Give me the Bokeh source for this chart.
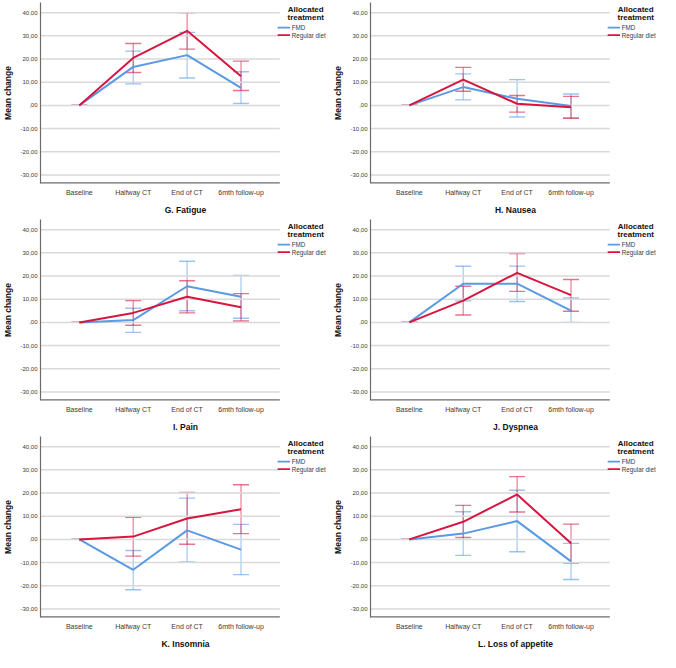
from bokeh.plotting import figure
from bokeh.layouts import gridplot
from bokeh.models import Range1d, FixedTicker, Whisker, TeeHead, ColumnDataSource
from bokeh.core.properties import value
from bokeh.embed import file_html
from bokeh.resources import INLINE

timepoints = ["Baseline", "Halfway CT", "End of CT", "6mth follow-up"]
y_ticks = [-30, -20, -10, 0, 10, 20, 30, 40]
y_tick_labels = ["-30,00", "-20,00", "-10,00", ",00", "10,00", "20,00", "30,00", "40,00"]
panel_titles = ["G. Fatigue", "H. Nausea", "I. Pain", "J. Dyspnea", "K. Insomnia", "L. Loss of appetite"]
legend_title = ["Allocated", "treatment"]
series_names = ["FMD", "Regular diet"]

# means and 95% CI bounds, per time point
fatigue_fmd = [0, 16.6, 21.7, 7.6]
fatigue_fmd_lo = [0, 9.3, 11.8, 0.8]
fatigue_fmd_hi = [0, 23.4, 31.5, 14.5]
fatigue_reg = [0, 20.5, 32.2, 12.6]
fatigue_reg_lo = [0, 14.2, 24.3, 6.4]
fatigue_reg_hi = [0, 26.7, 40.0, 19.1]

nausea_fmd = [0, 7.9, 2.9, -0.3]
nausea_fmd_lo = [0, 2.4, -5.0, -5.3]
nausea_fmd_hi = [0, 13.6, 11.1, 4.9]
nausea_reg = [0, 11.1, 0.7, -0.8]
nausea_reg_lo = [0, 6.1, -2.9, -5.6]
nausea_reg_hi = [0, 16.4, 4.3, 3.9]

pain_fmd = [0, 1.0, 15.6, 11.1]
pain_fmd_lo = [0, -4.3, 5.0, 1.8]
pain_fmd_hi = [0, 6.1, 26.4, 20.3]
pain_reg = [0, 4.1, 11.1, 6.5]
pain_reg_lo = [0, -1.2, 4.1, 0.6]
pain_reg_hi = [0, 9.4, 18.0, 12.4]

dyspnea_fmd = [0, 16.7, 16.7, 5.1]
dyspnea_fmd_lo = [0, 9.3, 9.0, 0.0]
dyspnea_fmd_hi = [0, 24.2, 24.3, 10.5]
dyspnea_reg = [0, 9.4, 21.4, 11.8]
dyspnea_reg_lo = [0, 3.2, 13.4, 4.8]
dyspnea_reg_hi = [0, 15.6, 29.7, 18.5]

insomnia_fmd = [0, -13.1, 3.9, -4.4]
insomnia_fmd_lo = [0, -21.7, -9.7, -15.2]
insomnia_fmd_hi = [0, -4.8, 17.8, 6.5]
insomnia_reg = [0, 1.2, 9.0, 13.0]
insomnia_reg_lo = [0, -7.2, -2.1, 2.5]
insomnia_reg_hi = [0, 9.5, 20.3, 23.6]

appetite_fmd = [0, 2.5, 7.9, -9.5]
appetite_fmd_lo = [0, -6.9, -5.3, -17.3]
appetite_fmd_hi = [0, 11.9, 21.2, -1.7]
appetite_reg = [0, 7.6, 19.4, -1.7]
appetite_reg_lo = [0, 0.8, 11.8, -10.2]
appetite_reg_hi = [0, 14.7, 27.1, 6.6]

panels = [
    (fatigue_fmd, fatigue_fmd_lo, fatigue_fmd_hi, fatigue_reg, fatigue_reg_lo, fatigue_reg_hi),
    (nausea_fmd, nausea_fmd_lo, nausea_fmd_hi, nausea_reg, nausea_reg_lo, nausea_reg_hi),
    (pain_fmd, pain_fmd_lo, pain_fmd_hi, pain_reg, pain_reg_lo, pain_reg_hi),
    (dyspnea_fmd, dyspnea_fmd_lo, dyspnea_fmd_hi, dyspnea_reg, dyspnea_reg_lo, dyspnea_reg_hi),
    (insomnia_fmd, insomnia_fmd_lo, insomnia_fmd_hi, insomnia_reg, insomnia_reg_lo, insomnia_reg_hi),
    (appetite_fmd, appetite_fmd_lo, appetite_fmd_hi, appetite_reg, appetite_reg_lo, appetite_reg_hi),
]

FONT = "Liberation Sans"
BLUE = "#5A9AE4"
RED = "#D8153F"
AXIS = "#6b6b6b"
x_pos = list(range(len(timepoints)))

# plotting area (in axis units); the frame continues to the right to hold the legend
X_LO, X_HI, X_END = -0.72, 3.72, 4.66
Y_LO, Y_HI = -33.7, 44.4

figs = []
for title, (fm, fl, fh, rm, rl, rh) in zip(panel_titles, panels):
    p = figure(width=330, height=217, output_backend="svg", toolbar_location=None,
               x_range=Range1d(X_LO, X_END), y_range=Range1d(Y_LO, Y_HI),
               min_border_left=0, min_border_right=0, min_border_top=2, min_border_bottom=0)
    p.outline_line_color = None
    p.xgrid.visible = False
    p.ygrid.visible = False

    # horizontal grid lines limited to the plotting area
    p.segment(x0=[X_LO] * len(y_ticks), x1=[X_HI] * len(y_ticks), y0=y_ticks, y1=y_ticks,
              line_color="#D9D9D9", line_width=1.5)
    # bottom axis line limited to the plotting area
    p.segment(x0=[X_LO], x1=[X_HI], y0=[Y_LO], y1=[Y_LO], line_color=AXIS, line_width=2.4)

    p.yaxis.ticker = FixedTicker(ticks=y_ticks)
    p.yaxis.major_label_overrides = {t: l for t, l in zip(y_ticks, y_tick_labels)}
    p.xaxis.ticker = FixedTicker(ticks=x_pos)
    p.xaxis.major_label_overrides = {i: t for i, t in zip(x_pos, timepoints)}
    for ax in (p.xaxis[0], p.yaxis[0]):
        ax.axis_line_color = AXIS
        ax.axis_line_width = 1.2
        ax.major_tick_line_color = None
        ax.minor_tick_line_color = None
        ax.major_tick_out = 0
        ax.major_tick_in = 0
        ax.minor_tick_out = 0
        ax.major_label_text_font = FONT
        ax.major_label_text_color = "#3a3a3a"
        ax.axis_label_text_font = FONT
        ax.axis_label_text_font_style = "bold"
        ax.axis_label_text_color = "#111111"
        ax.axis_label_text_font_size = "8.5px"
    p.xaxis.axis_line_color = None
    p.yaxis.major_label_text_font_size = "6px"
    p.xaxis.major_label_text_font_size = "7px"
    p.yaxis.axis_label = "Mean change"
    p.xaxis.axis_label = title
    p.yaxis.axis_label_standoff = 4
    p.yaxis.major_label_standoff = 3
    p.xaxis.major_label_standoff = 5
    p.xaxis.axis_label_standoff = 6

    for m, lo, hi, col in ((fm, fl, fh, BLUE), (rm, rl, rh, RED)):
        src = ColumnDataSource(dict(x=x_pos, lower=lo, upper=hi))
        w = Whisker(source=src, base="x", lower="lower", upper="upper",
                    line_color=col, line_alpha=0.55, line_width=1.2,
                    upper_head=TeeHead(size=16, line_color=col, line_alpha=0.6, line_width=1.4),
                    lower_head=TeeHead(size=16, line_color=col, line_alpha=0.6, line_width=1.4))
        p.add_layout(w)

    p.line(x_pos, fm, line_color=BLUE, line_width=2)
    p.line(x_pos, rm, line_color=RED, line_width=2)

    # legend
    p.text(x=[4.2, 4.2], y=[41.4, 38.0], text=legend_title, text_font=value(FONT),
           text_font_size=value("8px"), text_font_style="bold", text_color="#111111",
           text_align="center", text_baseline="middle")
    p.segment(x0=[3.68], x1=[3.91], y0=[33.6], y1=[33.6], line_color=BLUE, line_width=1.8)
    p.segment(x0=[3.68], x1=[3.91], y0=[30.3], y1=[30.3], line_color=RED, line_width=1.8)
    p.text(x=[3.94, 3.94], y=[33.6, 30.3], text=series_names, text_font=value(FONT),
           text_font_size=value("6.3px"), text_color="#3a3a3a",
           text_align="left", text_baseline="middle")
    figs.append(p)

grid = gridplot([figs[0:2], figs[2:4], figs[4:6]], toolbar_location=None)
open("out.html", "w").write(file_html(grid, INLINE))
